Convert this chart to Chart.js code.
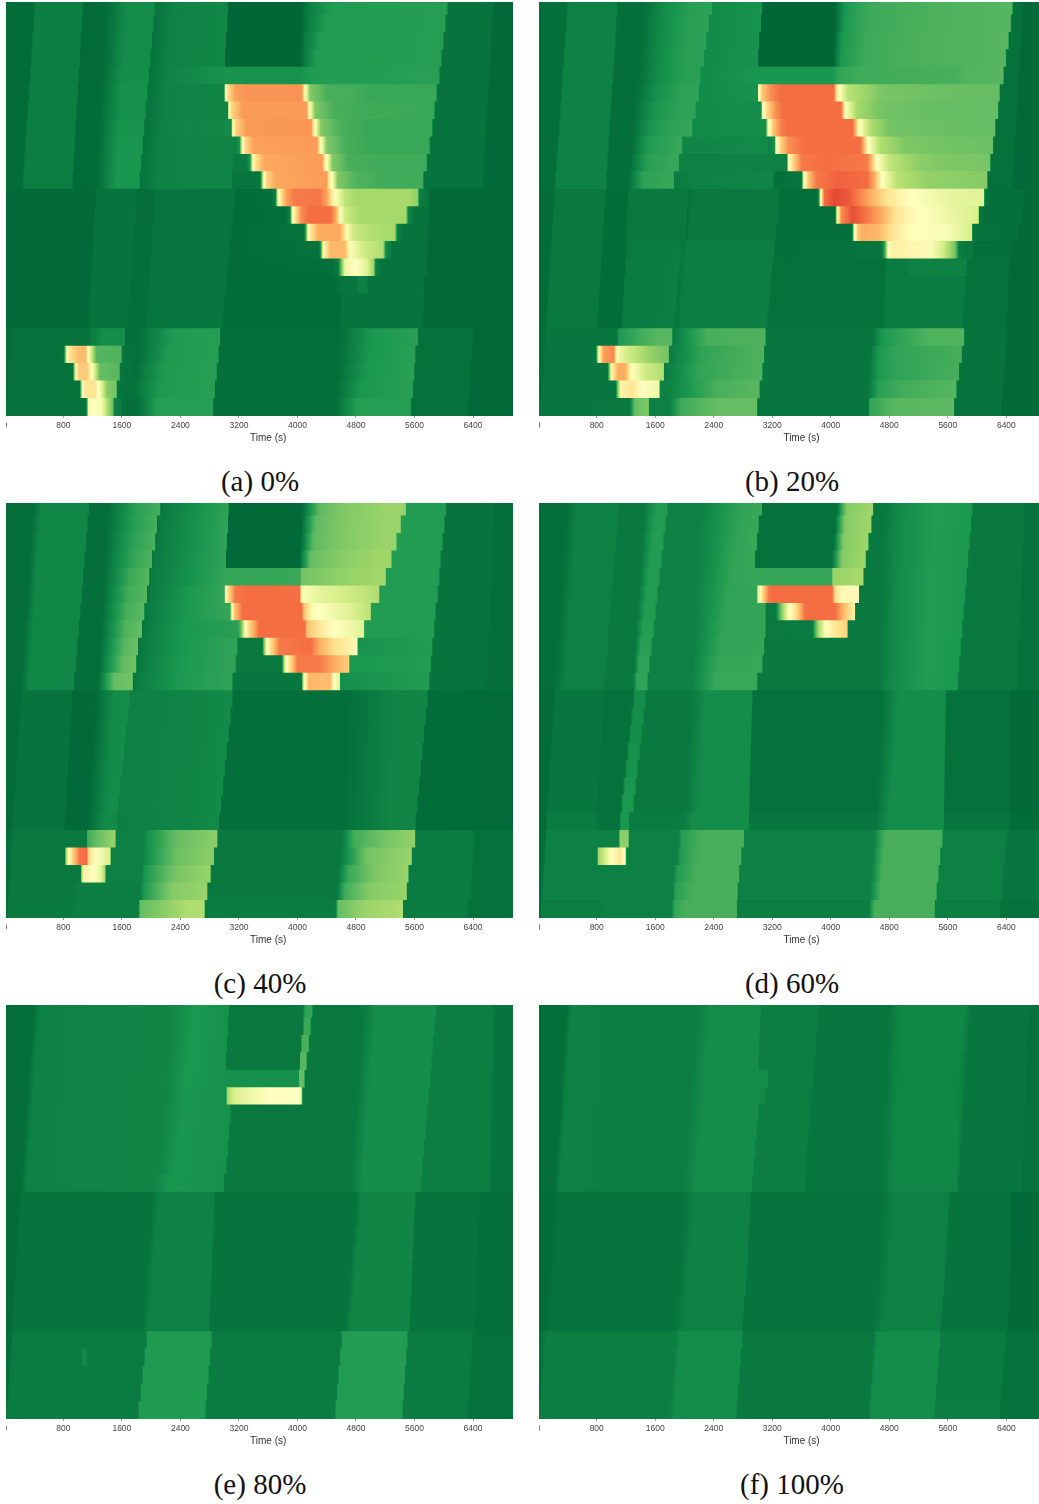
<!DOCTYPE html>
<html lang="en">
<head>
    <meta charset="UTF-8">
    <title>Heatmaps</title>
    <style>
        body { margin: 0; background: #fff; width: 1039px; height: 1504px; position: relative; overflow: hidden; }
        canvas { position: absolute; }
        .caption {
            position: absolute;
            font-family: "Liberation Serif", serif;
            font-size: 29px;
            color: #111;
            text-align: center;
            width: 200px;
            line-height: 34px;
        }
    </style>
</head>
<body>
    <script src="https://cdn.jsdelivr.net/npm/chart.js"></script>
    <script>
        const tickValues = [0, 800, 1600, 2400, 3200, 4000, 4800, 5600, 6400];
        const axisTitle = 'Time (s)';
        const axisTitleTime = 3600;
        const captions = ['(a) 0%', '(b) 20%', '(c) 40%', '(d) 60%', '(e) 80%', '(f) 100%'];

        // every row: time (s), value, time, value ... (value 0 = red, 1 = dark green)
        const panelA = [
            [0,.99,400,.99,420,.955,1060,.955,1075,.995,1390,.99,1670,.925,2045,.925,2060,.975,2115,.97,2300,.945,3050,.935,3052,1,4060,1,4140,.96,4470,.89,6037,.885,6065,.975,6668,.975,6690,.995,7000,.995],
            [0,.99,384,.99,404,.955,1046,.955,1061,.995,1376,.99,1656,.925,2024,.925,2039,.975,2094,.97,2280,.945,3040,.935,3042,1,4060,1,4130,.96,4400,.89,6010,.885,6038,.975,6654,.975,6676,.995,7000,.995],
            [0,.99,368,.99,388,.955,1032,.955,1047,.995,1362,.99,1642,.925,2003,.925,2018,.975,2073,.97,2260,.945,3020,.935,3022,1,4040,1,4110,.96,4330,.89,5982,.885,6010,.975,6640,.975,6662,.995,7000,.995],
            [0,.99,352,.99,372,.955,1018,.955,1033,.995,1348,.99,1628,.925,1982,.925,1997,.975,2052,.97,2240,.945,3005,.935,3007,1,4040,1,4100,.96,4270,.89,5955,.885,5983,.975,6626,.975,6648,.995,7000,.995],
            [0,.99,336,.99,356,.955,1004,.955,1019,.995,1334,.99,1614,.92,1961,.92,1976,.975,2031,.97,2220,.945,3005,.91,4040,.91,4100,.9,4300,.89,5350,.885,5927,.88,5955,.975,6612,.975,6634,.995,7000,.995],
            [0,.99,320,.99,340,.955,990,.955,1005,.995,1320,.99,1600,.915,1940,.915,1955,.975,2010,.97,2200,.945,3000,.94,3010,.55,3050,.4,3150,.28,3300,.26,4060,.26,4090,.4,4110,.52,4175,.76,4400,.84,4700,.84,5000,.86,5895,.86,5915,.975,6598,.975,6620,.995,7000,.995],
            [0,.99,304,.99,324,.955,976,.955,991,.995,1306,.99,1586,.915,1919,.915,1934,.975,1989,.97,2180,.945,3050,.94,3060,.55,3100,.38,3250,.27,4125,.27,4150,.4,4175,.52,4240,.76,4500,.84,4900,.85,5865,.86,5885,.975,6584,.975,6606,.995,7000,.995],
            [0,.99,288,.99,308,.955,962,.955,977,.995,1292,.99,1572,.91,1898,.91,1913,.975,1968,.97,2160,.945,3095,.93,3115,.52,3160,.37,3300,.27,4190,.26,4215,.4,4250,.52,4320,.76,4600,.84,5000,.86,5835,.86,5855,.975,6570,.975,6592,.995,7000,.995],
            [0,.99,272,.99,292,.955,948,.955,963,.995,1278,.99,1558,.905,1877,.905,1892,.975,1947,.97,2140,.945,3128,.94,3140,.96,3210,.9,3250,.52,3290,.38,3400,.28,4270,.27,4300,.42,4330,.52,4400,.76,4650,.84,5000,.86,5800,.86,5820,.975,6556,.975,6578,.995,7000,.995],
            [0,.99,256,.99,276,.955,934,.955,949,.995,1264,.99,1544,.905,1856,.905,1871,.975,1926,.97,2120,.945,3110,.94,3125,.96,3300,.96,3355,.9,3390,.52,3430,.4,3550,.29,4340,.27,4370,.42,4410,.52,4480,.76,4700,.84,5100,.85,5760,.85,5780,.975,6542,.975,6564,.995,7000,.995],
            [0,.99,240,.99,260,.955,920,.955,935,.995,1250,.99,1530,.905,1835,.905,1850,.975,1905,.97,2100,.945,3100,.94,3115,.97,3480,.97,3500,.93,3540,.52,3580,.38,3700,.29,4400,.27,4430,.42,4480,.52,4550,.76,4800,.83,5200,.85,5710,.85,5730,.975,6528,.975,6550,.995,7000,.995],
            [0,.995,1236,.995,1251,.975,1793,.975,1808,.985,2044,.985,2059,.973,3136,.973,3151,.99,3640,.985,3700,.95,3735,.55,3780,.4,3850,.28,3950,.22,4300,.215,4400,.28,4470,.42,4530,.52,4650,.65,4780,.7,5520,.7,5640,.73,5665,.95,5790,.975,5810,.995,7000,.995],
            [0,.995,1222,.995,1237,.975,1776,.975,1791,.985,2028,.985,2043,.973,3112,.973,3127,.99,3830,.985,3900,.95,3930,.55,3975,.4,4050,.25,4150,.2,4450,.2,4530,.3,4590,.5,4650,.62,4857,.7,5480,.7,5515,.94,5600,.975,5790,.975,5810,.995,7000,.995],
            [0,.995,1208,.995,1223,.975,1759,.975,1774,.985,2012,.985,2027,.973,3088,.973,3103,.99,4080,.98,4110,.9,4143,.55,4180,.42,4280,.3,4580,.29,4650,.42,4690,.52,4760,.62,5000,.68,5330,.7,5364,.95,5440,.975,5780,.975,5800,.995,7000,.995],
            [0,.995,1194,.995,1209,.975,1742,.975,1757,.985,1996,.985,2011,.973,3064,.973,3079,.99,4290,.98,4320,.9,4350,.55,4385,.42,4450,.32,4650,.32,4700,.45,4740,.52,4900,.62,5170,.68,5205,.92,5300,.975,5770,.975,5790,.995,7000,.995],
            [0,.995,1180,.995,1195,.975,1725,.975,1740,.985,1980,.985,1995,.973,3040,.973,3055,.99,4470,.985,4560,.96,4620,.7,4650,.55,4800,.5,4950,.58,5040,.72,5070,.95,5150,.975,5760,.975,5780,.995,7000,.995],
            [0,.995,1166,.995,1181,.975,1708,.975,1723,.985,1964,.985,1979,.973,3016,.973,3031,.99,4520,.99,4590,.975,4800,.97,4830,.95,4950,.95,4965,.975,5720,.975,5740,.995,7000,.995],
            [0,.995,1152,.995,1167,.975,1691,.975,1706,.985,1948,.985,1963,.973,2992,.973,3007,.99,4590,.99,4605,.975,5714,.975,5734,.995,7000,.995],
            [0,.995,1138,.995,1153,.975,1674,.975,1689,.985,1932,.985,1947,.973,2968,.973,2983,.99,4580,.99,4595,.975,5708,.975,5728,.995,7000,.995],
            [0,.985,100,.985,115,.98,1150,.98,1180,.96,1345,.92,1635,.92,1650,.985,1840,.985,2290,.895,2800,.885,2936,.885,2950,.985,4582,.985,5035,.9,5516,.885,5640,.88,5655,.98,6394,.98,6410,.995,7000,.995],
            [0,.985,80,.985,95,.98,800,.98,823,.85,850,.5,880,.42,1000,.33,1110,.33,1135,.5,1160,.55,1250,.82,1590,.83,1605,.97,1830,.985,2240,.895,2780,.885,2915,.885,2930,.985,4570,.985,5000,.9,5480,.885,5605,.88,5620,.98,6375,.98,6390,.995,7000,.995],
            [0,.985,50,.985,65,.98,925,.98,947,.8,975,.48,1010,.36,1130,.36,1180,.48,1210,.55,1300,.8,1564,.82,1580,.97,1780,.985,2180,.895,2750,.885,2890,.885,2905,.985,4550,.985,4950,.9,5450,.885,5590,.88,5605,.98,6360,.98,6375,.995,7000,.995],
            [0,.985,35,.985,50,.98,1020,.98,1042,.8,1060,.5,1100,.42,1240,.42,1280,.5,1310,.55,1400,.75,1523,.78,1540,.97,1770,.98,2140,.895,2700,.885,2865,.885,2880,.985,4530,.985,4880,.9,5420,.885,5570,.88,5585,.98,6345,.98,6360,.995,7000,.995],
            [0,.98,1100,.975,1125,.9,1140,.55,1180,.5,1320,.52,1400,.68,1480,.8,1495,.95,1590,.96,1605,.985,1811,.985,2085,.885,2840,.885,2855,.985,4514,.985,4816,.885,5543,.885,5558,.98,6325,.98,6340,.995,7000,.995]
        ];

        const panelB = [
            [0,.985,389,.985,410,.945,1073,.945,1090,.985,1438,.985,1700,.93,2099,.88,2373,.875,2385,.93,3057,.91,3059,1,4060,1,4200,.9,4516,.855,5109,.84,6477,.82,6495,.98,6614,.98,6640,.995,7000,.995],
            [0,.985,373,.985,394,.945,1058,.945,1075,.985,1418,.985,1680,.93,2070,.88,2327,.875,2340,.93,3040,.91,3042,1,4060,1,4180,.9,4500,.855,5060,.84,6454,.82,6472,.98,6600,.98,6626,.995,7000,.995],
            [0,.985,357,.985,378,.945,1043,.945,1060,.985,1398,.985,1660,.93,2040,.88,2291,.875,2304,.93,3020,.91,3022,1,4040,1,4160,.9,4470,.855,5000,.84,6422,.82,6440,.98,6586,.98,6612,.995,7000,.995],
            [0,.985,341,.985,362,.945,1028,.945,1045,.985,1378,.985,1640,.93,2010,.88,2259,.875,2272,.93,3005,.91,3007,1,4035,1,4140,.9,4440,.855,4950,.84,6386,.82,6404,.98,6572,.98,6598,.995,7000,.995],
            [0,.985,325,.985,346,.945,1013,.945,1030,.985,1358,.985,1620,.93,1980,.885,2213,.88,2226,.93,3000,.905,4020,.905,4100,.87,4400,.85,5700,.84,5850,.825,6354,.82,6372,.98,6558,.98,6584,.995,7000,.995],
            [0,.985,309,.985,330,.945,998,.945,1015,.985,1338,.985,1600,.92,1950,.875,2190,.87,2203,.93,3000,.91,3010,.55,3060,.35,3180,.25,3320,.2,4040,.2,4085,.42,4130,.52,4230,.66,4700,.77,5400,.79,6300,.8,6320,.98,6544,.98,6570,.995,7000,.995],
            [0,.985,293,.985,314,.945,983,.945,1000,.985,1318,.985,1580,.91,1920,.875,2145,.87,2158,.93,3050,.92,3060,.55,3120,.4,3250,.25,3350,.2,4140,.2,4175,.35,4200,.5,4360,.7,4700,.78,5500,.8,6280,.8,6295,.98,6530,.98,6556,.995,7000,.995],
            [0,.985,277,.985,298,.945,968,.945,985,.985,1298,.985,1560,.9,1880,.87,2099,.865,2112,.93,3110,.92,3145,.55,3210,.35,3320,.23,3400,.2,4300,.2,4350,.35,4385,.5,4550,.68,4800,.78,5300,.79,6240,.8,6258,.98,6516,.98,6542,.995,7000,.995],
            [0,.985,261,.985,282,.945,953,.945,970,.985,1278,.985,1520,.89,1800,.87,1962,.86,1975,.94,3130,.93,3150,.95,3230,.92,3250,.55,3310,.38,3420,.25,3650,.2,4400,.2,4450,.3,4510,.5,4680,.68,5000,.76,5500,.78,6210,.79,6226,.98,6502,.98,6528,.995,7000,.995],
            [0,.985,245,.985,266,.945,938,.945,955,.985,1258,.985,1500,.88,1780,.865,1917,.86,1930,.95,3190,.945,3400,.95,3420,.55,3470,.4,3600,.22,3900,.2,4500,.22,4560,.33,4630,.5,4800,.65,5200,.74,5500,.76,6170,.77,6190,.98,6488,.98,6514,.995,7000,.995],
            [0,.985,229,.985,250,.945,923,.945,940,.985,1238,.985,1430,.875,1700,.865,1849,.86,1862,.96,2200,.945,3200,.94,3240,.985,3605,.97,3625,.55,3690,.35,3800,.22,4100,.18,4500,.2,4600,.3,4700,.5,4900,.66,5300,.73,5700,.74,6130,.75,6148,.98,6474,.98,6500,.995,7000,.995],
            [0,.99,210,.99,230,.965,910,.965,925,.99,1220,.99,1245,.965,2050,.965,2060,.985,2110,.965,3285,.965,3300,.985,3815,.985,3840,.9,3860,.52,3910,.2,4050,.14,4250,.17,4500,.28,4790,.42,5100,.5,5600,.56,6090,.58,6103,.97,6200,.985,6640,.985,6665,.995,7000,.995],
            [0,.99,195,.99,215,.965,895,.965,910,.99,1205,.99,1230,.965,2030,.965,2040,.985,2090,.965,3270,.965,3285,.985,4050,.985,4070,.9,4085,.55,4140,.25,4300,.15,4450,.2,4700,.3,4900,.42,5200,.5,5700,.56,6015,.6,6030,.97,6120,.985,6610,.985,6635,.995,7000,.995],
            [0,.99,180,.99,200,.965,880,.965,895,.99,1190,.99,1215,.965,2010,.965,2020,.985,2070,.965,3250,.965,3265,.985,4285,.985,4300,.9,4320,.55,4370,.35,4430,.3,4650,.32,4850,.42,5100,.5,5600,.52,5925,.6,5939,.97,6040,.975,6570,.985,6595,.995,7000,.995],
            [0,.99,165,.99,185,.965,865,.965,880,.99,1195,.99,1215,.965,1950,.955,1965,.975,2030,.955,3220,.955,3235,.985,4700,.97,4740,.85,4785,.52,4830,.45,5300,.48,5520,.6,5700,.78,5750,.95,5800,.965,5930,.965,5950,.985,6450,.985,6477,.995,7000,.995],
            [0,.99,150,.99,170,.965,850,.965,865,.99,1180,.99,1200,.96,1920,.955,1940,.975,2010,.955,3190,.955,3200,.98,4730,.98,4770,.96,5060,.96,5070,.945,5850,.945,5870,.98,6430,.98,6445,.995,7000,.995],
            [0,.99,135,.99,155,.965,835,.965,850,.99,1165,.99,1185,.96,1900,.955,1920,.975,1990,.955,3175,.955,3190,.98,4720,.98,4760,.96,5830,.96,5850,.98,6420,.98,6435,.995,7000,.995],
            [0,.99,120,.99,140,.965,820,.965,835,.99,1150,.99,1170,.96,1880,.955,1900,.975,1970,.955,3155,.955,3170,.98,4710,.98,4750,.96,5815,.96,5835,.98,6410,.98,6425,.995,7000,.995],
            [0,.99,105,.99,125,.965,805,.965,820,.99,1135,.99,1155,.96,1860,.955,1880,.975,1950,.955,3125,.955,3140,.98,4700,.98,4740,.96,5800,.96,5820,.98,6400,.98,6415,.995,7000,.995],
            [0,.985,95,.985,110,.97,1080,.97,1100,.9,1390,.85,1640,.82,1826,.82,1840,.96,1900,.95,2310,.84,3102,.83,3115,.97,4584,.97,4700,.9,4970,.87,5340,.83,5816,.83,5830,.975,6400,.975,6420,.995,7000,.995],
            [0,.985,80,.985,95,.97,790,.97,809,.75,830,.5,890,.28,1030,.24,1075,.45,1100,.55,1240,.62,1510,.72,1780,.78,1795,.96,1850,.95,2240,.87,2830,.84,3080,.83,3095,.97,4540,.97,4650,.9,4870,.87,5560,.85,5784,.84,5798,.975,6380,.975,6400,.995,7000,.995],
            [0,.985,65,.985,80,.97,950,.97,968,.8,1010,.45,1090,.3,1190,.3,1280,.5,1460,.62,1712,.68,1725,.96,1800,.95,2200,.87,2750,.84,3057,.83,3072,.97,4520,.97,4650,.9,4900,.87,5500,.85,5747,.84,5760,.975,6360,.975,6380,.995,7000,.995],
            [0,.985,50,.985,65,.97,1060,.97,1082,.8,1140,.45,1280,.42,1420,.5,1652,.55,1665,.95,1800,.945,2420,.84,2900,.82,3020,.82,3035,.97,4510,.97,4650,.88,4950,.85,5400,.83,5711,.82,5725,.975,6340,.975,6360,.995,7000,.995],
            [0,.97,1250,.965,1270,.92,1320,.8,1506,.76,1520,.95,1800,.95,1960,.85,2440,.8,2988,.8,3000,.97,4516,.97,4530,.87,4850,.82,5679,.81,5692,.975,6320,.975,6335,.995,7000,.995]
        ];

        const panelC = [
            [0,.985,390,.985,500,.935,1142,.935,1160,.985,1416,.985,1800,.88,2123,.84,2130,.975,2170,.96,2670,.91,3057,.87,3059,.995,4061,.995,4300,.81,4630,.76,5220,.72,5474,.72,5490,.89,6022,.89,6040,.975,6683,.975,6700,.985,7000,.985],
            [0,.985,374,.985,484,.935,1122,.935,1140,.985,1402,.985,1780,.88,2077,.84,2084,.975,2130,.96,2640,.91,3050,.87,3052,.995,4050,.995,4250,.81,4600,.76,5180,.72,5406,.72,5420,.89,6000,.89,6018,.975,6670,.975,6690,.985,7000,.985],
            [0,.985,358,.985,468,.935,1102,.935,1120,.985,1388,.985,1760,.875,2054,.835,2061,.975,2100,.96,2610,.91,3030,.87,3032,.995,4040,.995,4220,.81,4580,.76,5150,.72,5347,.72,5360,.89,5975,.89,5993,.975,6660,.975,6680,.985,7000,.985],
            [0,.985,342,.985,452,.935,1082,.935,1100,.985,1375,.985,1740,.87,2009,.83,2016,.975,2060,.96,2580,.91,3020,.87,3022,.995,4030,.995,4180,.8,4560,.75,5100,.71,5278,.71,5292,.89,5950,.89,5968,.975,6650,.975,6670,.985,7000,.985],
            [0,.985,326,.985,436,.935,1062,.935,1080,.985,1361,.985,1700,.86,1972,.82,1980,.975,2020,.96,2550,.91,3020,.865,4030,.86,4060,.78,4500,.74,5000,.71,5201,.7,5215,.89,5930,.89,5948,.975,6640,.975,6660,.985,7000,.985],
            [0,.985,310,.985,420,.935,1042,.935,1060,.985,1348,.985,1690,.85,1940,.82,1948,.975,1990,.96,2520,.9,3000,.865,3017,.55,3050,.4,3150,.22,3300,.2,4030,.2,4050,.4,4080,.52,4250,.56,4700,.62,5110,.68,5125,.89,5908,.89,5926,.975,6630,.975,6650,.985,7000,.985],
            [0,.985,294,.985,404,.935,1022,.935,1040,.985,1334,.985,1670,.84,1904,.81,1912,.975,1960,.96,2490,.9,3080,.865,3103,.55,3135,.35,3250,.2,4060,.2,4085,.33,4200,.48,4400,.52,4700,.58,4996,.66,5010,.89,5880,.89,5898,.975,6620,.975,6640,.985,7000,.985],
            [0,.985,278,.985,388,.935,1002,.935,1020,.985,1320,.985,1650,.83,1872,.8,1880,.975,1930,.96,2460,.9,3190,.88,3230,.8,3286,.52,3330,.4,3480,.2,4100,.2,4130,.33,4300,.42,4500,.5,4904,.58,4918,.89,5860,.89,5878,.975,6610,.975,6630,.985,7000,.985],
            [0,.985,262,.985,372,.935,982,.935,1000,.985,1306,.985,1630,.82,1817,.79,1825,.975,1880,.96,2430,.9,3172,.87,3185,.965,3520,.965,3546,.75,3580,.52,3625,.42,3750,.22,4180,.2,4300,.3,4500,.4,4813,.48,4827,.91,5835,.89,5853,.975,6600,.975,6620,.985,7000,.985],
            [0,.985,246,.985,356,.935,962,.935,980,.985,1293,.985,1610,.81,1794,.78,1802,.975,1850,.96,2400,.9,3150,.87,3163,.965,3790,.965,3810,.75,3840,.52,3890,.42,4000,.22,4300,.22,4500,.3,4700,.36,4713,.9,5815,.89,5833,.975,6590,.975,6610,.985,7000,.985],
            [0,.985,230,.985,340,.935,937,.935,955,.985,1279,.985,1500,.8,1744,.78,1752,.975,1800,.96,2370,.9,3105,.87,3120,.97,4055,.97,4075,.7,4095,.52,4140,.38,4150,.32,4450,.33,4500,.5,4575,.58,4585,.92,5794,.89,5812,.975,6580,.975,6600,.985,7000,.985],
            [0,.99,210,.99,230,.975,915,.975,930,.995,1234,.995,1485,.93,1700,.925,1714,.95,2670,.94,3057,.93,3105,.93,3120,.985,4675,.985,5350,.94,5770,.94,5785,.99,7000,.995],
            [0,.99,195,.99,215,.975,900,.975,915,.995,1219,.995,1470,.93,1674,.925,1688,.95,2640,.94,3040,.93,3079,.93,3094,.985,4669,.985,5340,.94,5747,.94,5762,.99,7000,.995],
            [0,.99,180,.99,200,.975,885,.975,900,.995,1204,.995,1455,.93,1648,.925,1662,.95,2610,.94,3020,.93,3053,.93,3068,.985,4663,.985,5330,.94,5724,.94,5739,.99,7000,.995],
            [0,.99,165,.99,185,.975,870,.975,885,.995,1189,.995,1440,.93,1622,.925,1636,.95,2580,.94,3000,.93,3027,.93,3042,.985,4657,.985,5320,.94,5701,.94,5716,.99,7000,.995],
            [0,.99,150,.99,170,.975,855,.975,870,.995,1174,.995,1425,.93,1596,.925,1610,.95,2550,.94,2980,.93,3001,.93,3016,.985,4651,.985,5310,.94,5678,.94,5693,.99,7000,.995],
            [0,.99,135,.99,155,.975,840,.975,855,.995,1159,.995,1410,.93,1570,.925,1584,.95,2520,.94,2960,.93,2975,.93,2990,.985,4645,.985,5300,.94,5655,.94,5670,.99,7000,.995],
            [0,.99,120,.99,140,.975,825,.975,840,.995,1144,.995,1395,.93,1544,.925,1558,.95,2500,.94,2948,.93,2963,.985,4639,.985,5290,.94,5632,.94,5647,.99,7000,.995],
            [0,.99,100,.99,115,.975,810,.975,825,.995,1129,.995,1360,.93,1530,.93,1544,.955,2470,.94,2921,.93,2936,.985,4631,.985,5280,.94,5610,.94,5625,.99,7000,.995],
            [0,.985,95,.985,110,.965,1120,.965,1130,.85,1260,.8,1507,.72,1520,.95,1895,.95,1940,.92,2350,.8,2898,.74,2912,.965,4608,.965,4770,.85,5180,.78,5602,.73,5616,.96,6409,.96,6425,.98,7000,.98],
            [0,.985,80,.985,95,.965,820,.965,837,.7,870,.52,915,.4,1030,.2,1120,.2,1150,.4,1240,.5,1439,.6,1452,.95,1895,.95,1940,.92,2350,.79,2852,.74,2866,.965,4585,.965,4950,.78,5556,.72,5570,.96,6395,.96,6410,.98,7000,.98],
            [0,.985,65,.985,80,.965,1035,.965,1051,.7,1090,.45,1210,.5,1300,.55,1370,.7,1382,.95,1870,.95,1920,.9,2350,.77,2807,.72,2820,.965,4560,.965,4700,.86,5100,.76,5510,.72,5525,.96,6380,.96,6395,.98,7000,.98],
            [0,.98,50,.98,65,.965,950,.965,960,.955,1850,.955,1900,.9,2300,.75,2761,.72,2775,.965,4540,.965,4650,.85,5000,.75,5488,.72,5500,.96,6365,.96,6380,.98,7000,.98],
            [0,.98,35,.98,50,.965,930,.965,940,.955,1826,.955,1850,.8,2100,.76,2500,.68,2725,.68,2738,.96,4517,.96,4560,.8,4900,.72,5438,.68,5450,.96,6320,.96,6335,.98,7000,.98]
        ];

        const panelD = [
            [0,.985,389,.985,526,.95,1096,.95,1115,.965,1450,.965,1620,.89,1757,.89,1775,.945,2236,.945,2783,.87,3057,.86,3059,.98,4083,.98,4220,.75,4571,.71,4585,.965,4744,.965,4926,.93,5428,.89,5930,.9,5945,.965,6640,.965,6660,.98,7000,.98],
            [0,.985,373,.985,510,.95,1076,.95,1095,.965,1435,.965,1593,.89,1730,.89,1748,.945,2222,.945,2747,.87,3011,.86,3013,.98,4060,.98,4200,.75,4548,.71,4562,.965,4735,.965,4917,.93,5416,.89,5910,.9,5925,.965,6630,.965,6650,.98,7000,.98],
            [0,.985,357,.985,494,.95,1056,.95,1075,.965,1420,.965,1566,.89,1703,.89,1721,.945,2208,.945,2711,.87,2988,.86,2990,.98,4040,.98,4180,.75,4507,.71,4521,.965,4726,.965,4908,.93,5404,.89,5890,.9,5905,.965,6620,.965,6640,.98,7000,.98],
            [0,.985,341,.985,478,.95,1036,.95,1055,.965,1405,.965,1539,.89,1676,.89,1694,.945,2194,.945,2675,.87,2966,.86,2968,.98,4015,.98,4160,.75,4470,.71,4484,.965,4717,.965,4899,.93,5392,.89,5870,.9,5885,.965,6610,.965,6630,.98,7000,.98],
            [0,.985,325,.985,462,.95,1016,.95,1035,.965,1390,.965,1512,.89,1649,.89,1667,.945,2180,.945,2639,.87,2900,.865,4010,.865,4030,.72,4439,.7,4453,.965,4708,.965,4890,.93,5380,.89,5850,.9,5865,.965,6600,.965,6620,.98,7000,.98],
            [0,.985,309,.985,446,.95,996,.95,1015,.965,1375,.965,1485,.89,1622,.89,1640,.945,2166,.945,2600,.87,2988,.865,3002,.6,3030,.52,3065,.4,3150,.22,3200,.2,4020,.2,4060,.4,4150,.48,4379,.48,4392,.965,4699,.965,4881,.93,5368,.89,5830,.9,5845,.965,6590,.965,6610,.98,7000,.98],
            [0,.985,293,.985,430,.95,976,.95,995,.965,1360,.965,1458,.89,1595,.89,1613,.945,2152,.945,2566,.87,3102,.865,3115,.965,3250,.96,3310,.8,3420,.52,3510,.42,3650,.2,4060,.2,4200,.35,4324,.45,4338,.965,4690,.965,4872,.93,5356,.89,5810,.9,5825,.965,6580,.965,6600,.98,7000,.98],
            [0,.985,277,.985,414,.95,956,.95,975,.965,1345,.965,1431,.885,1568,.885,1586,.945,2138,.945,2530,.87,3102,.865,3115,.965,3750,.96,3830,.7,3930,.5,4060,.42,4220,.37,4232,.965,4681,.965,4863,.93,5344,.89,5790,.9,5805,.965,6570,.965,6590,.98,7000,.98],
            [0,.985,261,.985,398,.95,936,.95,955,.965,1330,.965,1404,.88,1541,.88,1559,.945,2124,.945,2495,.87,3080,.865,3095,.965,4672,.965,4854,.93,5332,.89,5770,.9,5785,.965,6560,.965,6580,.98,7000,.98],
            [0,.985,245,.985,382,.95,916,.95,935,.965,1315,.965,1377,.875,1514,.875,1532,.945,2110,.945,2460,.865,3057,.86,3072,.965,4663,.965,4845,.93,5320,.89,5750,.9,5765,.965,6550,.965,6570,.98,7000,.98],
            [0,.985,229,.985,366,.95,891,.95,910,.965,1300,.965,1350,.87,1487,.87,1505,.945,2099,.945,2425,.86,2988,.86,3003,.965,4654,.965,4836,.93,5308,.89,5730,.9,5745,.965,6540,.965,6560,.98,7000,.98],
            [0,.99,210,.99,230,.97,890,.97,905,.98,1290,.98,1323,.92,1460,.92,1475,.965,2100,.965,2290,.925,2920,.925,2935,.98,4700,.98,4930,.925,5565,.925,5580,.98,6431,.98,6450,.995,7000,.995],
            [0,.99,195,.99,215,.97,875,.97,890,.98,1265,.98,1296,.92,1433,.92,1448,.965,2086,.965,2276,.925,2913,.925,2928,.98,4687,.98,4910,.925,5561,.925,5576,.98,6431,.98,6450,.995,7000,.995],
            [0,.99,180,.99,200,.97,860,.97,875,.98,1240,.98,1269,.92,1406,.92,1421,.965,2072,.965,2262,.925,2906,.925,2921,.98,4674,.98,4890,.925,5557,.925,5572,.98,6431,.98,6450,.995,7000,.995],
            [0,.99,165,.99,185,.97,845,.97,860,.98,1212,.98,1242,.915,1379,.915,1394,.965,2058,.965,2248,.925,2899,.925,2914,.98,4661,.98,4870,.925,5553,.925,5568,.98,6431,.98,6450,.995,7000,.995],
            [0,.99,150,.99,170,.97,830,.97,845,.98,1185,.98,1215,.91,1352,.91,1367,.965,2044,.965,2234,.925,2892,.925,2907,.98,4648,.98,4850,.925,5549,.925,5564,.98,6431,.98,6450,.995,7000,.995],
            [0,.99,135,.99,155,.97,815,.97,830,.98,1158,.98,1188,.905,1325,.905,1340,.965,2030,.965,2220,.925,2885,.925,2900,.98,4635,.98,4830,.925,5545,.925,5560,.98,6431,.98,6450,.995,7000,.995],
            [0,.99,120,.99,140,.97,800,.97,815,.98,1131,.98,1161,.9,1298,.9,1313,.965,2015,.965,2206,.925,2880,.925,2895,.98,4620,.98,4810,.925,5542,.925,5557,.98,6431,.98,6450,.995,7000,.995],
            [0,.99,105,.99,125,.96,790,.96,805,.975,1110,.975,1134,.9,1233,.9,1248,.96,2000,.96,2100,.925,2874,.925,2889,.97,4607,.97,4790,.925,5540,.925,5555,.97,6431,.97,6450,.99,7000,.99],
            [0,.985,95,.985,110,.95,1100,.95,1120,.74,1230,.74,1245,.95,1920,.95,1960,.89,2230,.84,2806,.84,2820,.95,4584,.95,4740,.84,5519,.84,5533,.95,6386,.95,6400,.97,7000,.97],
            [0,.985,80,.985,95,.95,805,.95,822,.72,900,.62,1000,.5,1120,.42,1180,.5,1196,.68,1210,.95,1900,.95,1950,.89,2200,.84,2770,.84,2784,.95,4566,.95,4720,.84,5490,.84,5504,.95,6370,.95,6385,.97,7000,.97],
            [0,.985,65,.985,80,.95,1850,.95,1900,.89,2160,.84,2740,.84,2754,.95,4550,.95,4700,.84,5465,.84,5479,.95,6350,.95,6365,.97,7000,.97],
            [0,.985,50,.985,65,.95,1840,.95,1880,.88,2120,.84,2720,.84,2734,.95,4530,.95,4680,.84,5440,.84,5454,.95,6330,.95,6345,.97,7000,.97],
            [0,.98,35,.98,50,.955,900,.955,915,.95,1825,.95,1860,.87,2020,.84,2710,.84,2724,.955,4516,.955,4600,.84,5415,.84,5429,.955,6304,.955,6318,.98,7000,.98]
        ];

        const panelE = [
            [0,.985,390,.985,481,.945,2260,.94,2442,.92,2602,.9,3058,.915,3060,.965,4075,.965,4106,.87,4198,.87,4215,.965,4904,.965,5087,.92,5885,.92,5900,.955,6683,.955,6700,.975,7000,.975],
            [0,.985,373,.985,464,.945,2242,.94,2420,.92,2572,.9,3050,.915,3052,.965,4075,.965,4090,.86,4175,.86,4190,.965,4886,.965,5067,.92,5865,.92,5880,.955,6676,.955,6695,.975,7000,.975],
            [0,.985,356,.985,447,.945,2224,.94,2398,.92,2542,.9,3035,.915,3037,.965,4048,.965,4060,.84,4150,.84,4165,.965,4868,.965,5047,.92,5845,.92,5860,.955,6669,.955,6690,.975,7000,.975],
            [0,.985,339,.985,430,.945,2206,.94,2376,.92,2512,.9,3020,.915,3022,.965,4030,.965,4040,.82,4120,.82,4135,.965,4850,.965,5027,.92,5825,.92,5840,.955,6662,.955,6685,.975,7000,.975],
            [0,.985,322,.985,413,.945,2188,.94,2354,.92,2482,.9,3020,.915,4020,.915,4025,.8,4090,.8,4105,.965,4832,.965,5007,.92,5805,.92,5820,.955,6655,.955,6680,.975,7000,.975],
            [0,.985,305,.985,396,.945,2170,.94,2332,.92,2452,.905,3026,.915,3040,.7,3130,.6,3340,.55,3630,.5,4038,.5,4060,.7,4072,.965,4814,.965,4987,.92,5785,.92,5800,.955,6648,.955,6675,.975,7000,.975],
            [0,.985,288,.985,379,.945,2152,.94,2310,.92,2422,.905,3080,.915,3095,.965,4796,.965,4967,.92,5765,.92,5780,.955,6641,.955,6670,.975,7000,.975],
            [0,.985,271,.985,362,.945,2134,.94,2288,.92,2392,.905,3060,.915,3075,.965,4778,.965,4947,.92,5745,.92,5760,.955,6634,.955,6665,.975,7000,.975],
            [0,.985,254,.985,345,.945,2116,.94,2266,.92,2362,.905,3040,.915,3055,.965,4760,.965,4927,.92,5725,.92,5740,.955,6627,.955,6660,.975,7000,.975],
            [0,.985,237,.985,328,.945,2098,.94,2244,.92,2332,.905,3020,.915,3035,.965,4741,.965,4915,.92,5705,.92,5720,.955,6620,.955,6655,.975,7000,.975],
            [0,.985,220,.985,311,.945,2077,.94,2200,.91,2305,.905,2989,.915,3004,.965,4722,.965,4904,.92,5680,.92,5695,.955,6614,.955,6650,.975,7000,.975],
            [0,.99,190,.99,230,.975,2020,.975,2110,.945,2860,.945,2875,.975,4800,.975,4880,.94,5600,.94,5615,.975,6480,.975,6500,.985,7000,.985],
            [0,.99,175,.99,215,.975,2000,.975,2090,.945,2850,.945,2865,.975,4780,.975,4860,.94,5590,.94,5605,.975,6470,.975,6490,.985,7000,.985],
            [0,.99,160,.99,200,.975,1980,.975,2070,.945,2840,.945,2855,.975,4760,.975,4840,.94,5580,.94,5595,.975,6460,.975,6480,.985,7000,.985],
            [0,.99,145,.99,185,.975,1960,.975,2050,.945,2830,.945,2845,.975,4740,.975,4820,.94,5570,.94,5585,.975,6450,.975,6470,.985,7000,.985],
            [0,.99,130,.99,170,.975,1940,.975,2030,.945,2820,.945,2835,.975,4720,.975,4800,.94,5560,.94,5575,.975,6440,.975,6460,.985,7000,.985],
            [0,.99,115,.99,155,.975,1920,.975,2010,.945,2810,.945,2825,.975,4700,.975,4780,.94,5550,.94,5565,.975,6430,.975,6450,.985,7000,.985],
            [0,.99,100,.99,140,.975,1900,.975,1990,.945,2800,.945,2815,.975,4680,.975,4760,.94,5540,.94,5555,.975,6420,.975,6440,.985,7000,.985],
            [0,.99,85,.99,125,.975,1880,.975,1970,.945,2790,.945,2805,.975,4660,.975,4740,.94,5530,.94,5545,.975,6410,.975,6430,.985,7000,.985],
            [0,.985,90,.985,105,.96,1930,.96,1950,.895,2818,.895,2832,.96,4597,.96,4610,.89,5498,.89,5512,.96,6386,.96,6400,.98,7000,.98],
            [0,.985,75,.985,90,.96,1055,.96,1060,.93,1125,.93,1130,.96,1902,.96,1922,.895,2798,.895,2812,.96,4577,.96,4590,.89,5481,.89,5495,.96,6372,.96,6386,.98,7000,.98],
            [0,.985,60,.985,75,.96,1875,.96,1895,.895,2778,.895,2792,.96,4556,.96,4569,.89,5464,.89,5478,.96,6359,.96,6373,.98,7000,.98],
            [0,.985,45,.985,60,.96,1848,.96,1868,.895,2757,.895,2771,.96,4535,.96,4548,.89,5447,.89,5461,.96,6345,.96,6359,.98,7000,.98],
            [0,.98,40,.96,1820,.96,1835,.895,2737,.895,2751,.96,4514,.96,4527,.89,5430,.89,5444,.96,6332,.96,6346,.98,7000,.98]
        ];

        const panelF = [
            [0,.985,389,.985,460,.945,1100,.955,2190,.955,2350,.925,3034,.925,3050,.955,3832,.955,3845,.97,4790,.97,4970,.935,5816,.935,5930,.97,6700,.97,6720,.98,7000,.98],
            [0,.985,373,.985,444,.945,1085,.955,2170,.955,2330,.925,3024,.925,3040,.955,3812,.955,3825,.97,4780,.97,4960,.935,5795,.935,5910,.97,6690,.97,6710,.98,7000,.98],
            [0,.985,357,.985,428,.945,1070,.955,2150,.955,2310,.925,3014,.925,3030,.955,3792,.955,3805,.97,4770,.97,4950,.935,5774,.935,5890,.97,6680,.97,6700,.98,7000,.98],
            [0,.985,341,.985,412,.945,1055,.955,2130,.955,2290,.925,3004,.925,3020,.955,3772,.955,3785,.97,4760,.97,4940,.935,5753,.935,5870,.97,6670,.97,6690,.98,7000,.98],
            [0,.985,325,.985,396,.945,1040,.955,2110,.955,2270,.925,3134,.925,3150,.955,3752,.955,3765,.97,4750,.97,4930,.935,5732,.935,5850,.97,6660,.97,6680,.98,7000,.98],
            [0,.985,309,.985,380,.945,1025,.955,2090,.955,2250,.925,3034,.925,3040,.935,3110,.935,3120,.955,3732,.955,3745,.97,4740,.97,4920,.935,5730,.935,5840,.97,6650,.97,6670,.98,7000,.98],
            [0,.985,293,.985,364,.945,1010,.955,2070,.955,2230,.925,3000,.925,3015,.955,3712,.955,3725,.97,4730,.97,4910,.935,5730,.935,5830,.97,6640,.97,6660,.98,7000,.98],
            [0,.985,277,.985,348,.945,995,.955,2050,.955,2210,.925,2980,.925,2995,.955,3692,.955,3705,.97,4720,.97,4900,.935,5728,.935,5810,.97,6630,.97,6650,.98,7000,.98],
            [0,.985,261,.985,332,.945,980,.955,2030,.955,2190,.925,2960,.925,2975,.955,3672,.955,3685,.97,4710,.97,4890,.935,5726,.935,5790,.97,6620,.97,6640,.98,7000,.98],
            [0,.985,245,.985,316,.945,965,.955,2010,.955,2170,.925,2940,.925,2955,.955,3656,.955,3669,.97,4704,.97,4880,.935,5725,.935,5770,.97,6610,.97,6630,.98,7000,.98],
            [0,.985,229,.985,300,.945,950,.955,2000,.955,2150,.925,2920,.925,2935,.955,3640,.955,3653,.97,4698,.97,4870,.935,5724,.935,5750,.97,6600,.97,6620,.98,7000,.98],
            [0,.99,210,.99,330,.975,1985,.975,2145,.945,2897,.945,2912,.975,4698,.975,4860,.95,5610,.95,5625,.975,6454,.975,6470,.995,7000,.995],
            [0,.99,195,.99,305,.975,1970,.975,2130,.945,2885,.945,2900,.975,4685,.975,4845,.95,5597,.95,5612,.975,6450,.975,6466,.995,7000,.995],
            [0,.99,180,.99,280,.975,1955,.975,2110,.945,2872,.945,2887,.975,4672,.975,4830,.95,5584,.95,5599,.975,6446,.975,6462,.995,7000,.995],
            [0,.99,165,.99,260,.975,1940,.975,2090,.945,2859,.945,2874,.975,4659,.975,4815,.95,5571,.95,5586,.975,6442,.975,6458,.995,7000,.995],
            [0,.99,150,.99,240,.975,1925,.975,2070,.945,2846,.945,2861,.975,4646,.975,4800,.95,5558,.95,5573,.975,6438,.975,6454,.995,7000,.995],
            [0,.99,135,.99,220,.975,1910,.975,2050,.945,2833,.945,2848,.975,4633,.975,4785,.95,5545,.95,5560,.975,6434,.975,6450,.995,7000,.995],
            [0,.99,120,.99,200,.975,1890,.975,2030,.945,2808,.945,2823,.975,4610,.975,4770,.95,5520,.95,5535,.975,6427,.975,6443,.995,7000,.995],
            [0,.99,95,.99,185,.975,1871,.975,1985,.95,2783,.95,2798,.975,4584,.975,4700,.95,5496,.95,5511,.975,6420,.975,6436,.995,7000,.995],
            [0,.985,85,.97,95,.955,1871,.955,1940,.925,2783,.925,2798,.965,4584,.965,4630,.925,5487,.925,5502,.96,6386,.96,6400,.98,7000,.98],
            [0,.985,70,.97,80,.955,1853,.955,1920,.925,2763,.925,2778,.965,4566,.965,4610,.925,5470,.925,5485,.96,6366,.96,6380,.98,7000,.98],
            [0,.985,55,.97,65,.955,1836,.955,1900,.925,2744,.925,2759,.965,4548,.965,4590,.925,5453,.925,5468,.96,6346,.96,6360,.98,7000,.98],
            [0,.985,40,.97,50,.955,1819,.955,1880,.925,2725,.925,2740,.965,4532,.965,4570,.925,5434,.925,5449,.96,6325,.96,6340,.98,7000,.98],
            [0,.97,30,.955,1803,.955,1860,.925,2706,.925,2721,.965,4516,.965,4550,.925,5415,.925,5430,.955,6304,.955,6318,.98,7000,.98]
        ];

        const panels = [panelA, panelB, panelC, panelD, panelE, panelF];

        // RdYlGn colormap
        const colorStops = [
            [165, 0, 38], [215, 48, 39], [244, 109, 67], [253, 174, 97], [254, 224, 139], [255, 255, 191],
            [217, 239, 139], [166, 217, 106], [102, 189, 99], [26, 152, 80], [0, 104, 55]
        ];

        function valueColor(v) {
            const pos = Math.min(Math.max(v, 0), 1) * (colorStops.length - 1);
            const i = Math.min(Math.floor(pos), colorStops.length - 2);
            const f = pos - i;
            const c = colorStops[i].map((n, k) => Math.round(n + (colorStops[i + 1][k] - n) * f));
            return `rgb(${c[0]},${c[1]},${c[2]})`;
        }

        const dataEnd = 7000;

        function rowGradient(chart, row) {
            const x = chart.scales.x;
            const p0 = x.getPixelForValue(0);
            const p1 = x.getPixelForValue(dataEnd);
            // the library also asks for the colour before the layout is done
            if (!isFinite(p0) || !isFinite(p1)) {
                return valueColor(row[1]);
            }
            const g = chart.ctx.createLinearGradient(p0, 0, p1, 0);
            for (let i = 0; i < row.length - 2; i += 2) {
                // extra colour stops so a big jump passes through the yellow of the colormap
                const steps = Math.max(1, Math.ceil(Math.abs(row[i + 3] - row[i + 1]) / 0.04));
                for (let s = 0; s <= steps; s++) {
                    const t = row[i] + (row[i + 2] - row[i]) * s / steps;
                    const v = row[i + 1] + (row[i + 3] - row[i + 1]) * s / steps;
                    g.addColorStop(t / dataEnd, valueColor(v));
                }
            }
            return g;
        }

        // the axis title sits off the middle of the plot, at a fixed time
        const axisTitlePlugin = {
            id: 'axisTitle',
            afterDraw(chart) {
                const ctx = chart.ctx;
                ctx.save();
                ctx.font = '10px "Liberation Sans", Arial, sans-serif';
                ctx.fillStyle = '#333';
                ctx.textAlign = 'center';
                ctx.textBaseline = 'middle';
                ctx.fillText(axisTitle, chart.scales.x.getPixelForValue(axisTitleTime), chart.chartArea.bottom + 22);
                ctx.restore();
            }
        };

        function addPanel(rows, index) {
            const right = index % 2 === 1;
            const level = Math.floor(index / 2);
            const left = right ? 539 : 6;
            const width = right ? 500 : 507;
            const top = [2, 503, 1005][level];
            const plotHeight = [414, 415, 414][level];
            const xMin = right ? 11 : 16;

            const canvas = document.createElement('canvas');
            canvas.width = width;
            canvas.height = plotHeight + 30;
            canvas.style.left = left + 'px';
            canvas.style.top = top + 'px';
            document.body.appendChild(canvas);

            new Chart(canvas, {
                type: 'bar',
                plugins: [axisTitlePlugin],
                data: {
                    datasets: [{
                        data: rows.map((row, i) => ({ x: [0, dataEnd], y: i })),
                        backgroundColor: (ctx) => ctx.dataIndex === undefined ? '#006837' : rowGradient(ctx.chart, rows[ctx.dataIndex]),
                        barThickness: 18,
                        borderWidth: 0
                    }]
                },
                options: {
                    indexAxis: 'y',
                    responsive: false,
                    animation: false,
                    devicePixelRatio: 1,
                    layout: { padding: 0 },
                    plugins: { legend: { display: false }, tooltip: { enabled: false } },
                    scales: {
                        y: { type: 'linear', reverse: true, offset: false, min: -0.25, max: 23.5, display: false },
                        x: {
                            type: 'linear',
                            min: xMin,
                            max: xMin + width * 13.67,
                            border: { display: false },
                            grid: { drawOnChartArea: false, tickLength: 2, tickColor: '#999' },
                            ticks: {
                                color: '#444',
                                font: { family: '"Liberation Sans", Arial, sans-serif', size: 8.5 },
                                padding: 3,
                                maxRotation: 0,
                                callback: (v) => String(v)
                            },
                            afterBuildTicks: (scale) => { scale.ticks = tickValues.map((v) => ({ value: v })); },
                            afterFit: (scale) => {
                                scale.height = 30;
                                scale.paddingLeft = 0;
                                scale.paddingRight = 0;
                            }
                        }
                    }
                }
            });

            const cap = document.createElement('div');
            cap.className = 'caption';
            cap.textContent = captions[index];
            cap.style.left = (right ? 692 : 160) + 'px';
            cap.style.top = [464, 966, 1467][level] + 'px';
            document.body.appendChild(cap);
        }

        panels.forEach(addPanel);
    </script>
</body>
</html>
